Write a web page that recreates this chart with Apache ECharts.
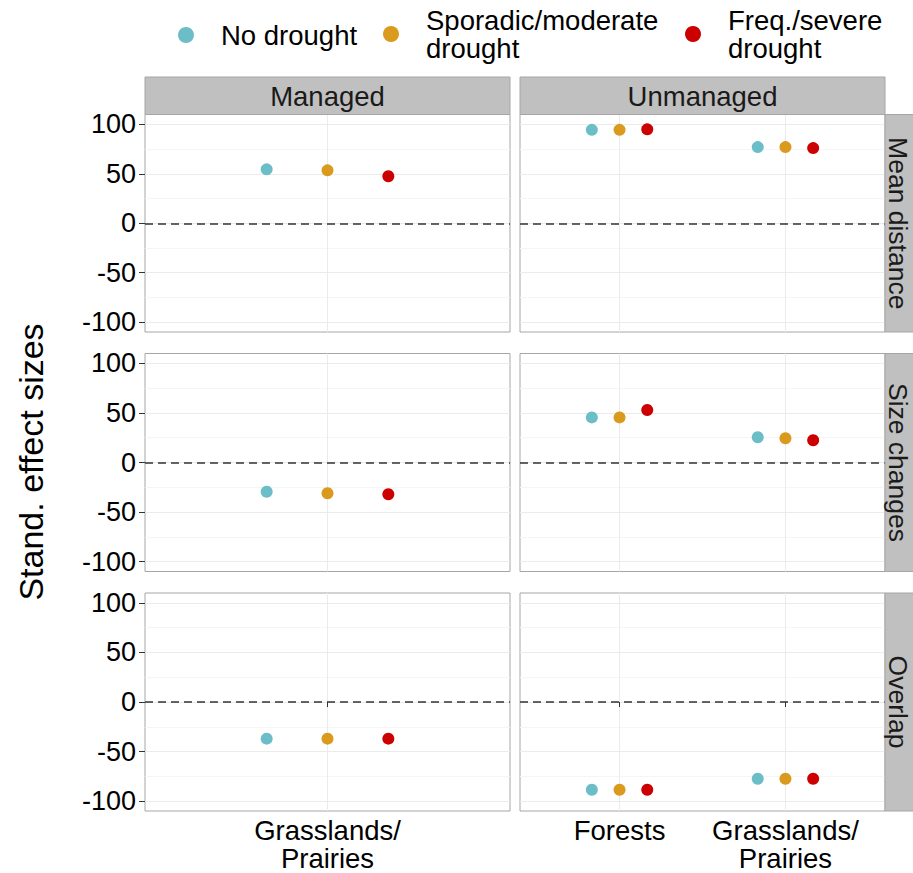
<!DOCTYPE html>
<html><head><meta charset="utf-8">
<script src="https://cdn.jsdelivr.net/npm/echarts@6/dist/echarts.min.js"></script>
<style>html,body{margin:0;padding:0;background:#fff}#c{width:913px;height:873px}</style>
</head><body><div id="c"></div>
<script>
// ---------- data ----------
const droughtLevels = ['No drought', 'Sporadic/moderate drought', 'Freq./severe drought'];
const managementTypes = ['Managed', 'Unmanaged'];
const metrics = ['Mean distance', 'Size changes', 'Overlap'];
const managedCategories = ['Grasslands/Prairies'];
const unmanagedCategories = ['Forests', 'Grasslands/Prairies'];
const yTicks = [-100, -50, 0, 50, 100];
const yMinorTicks = [-75, -25, 25, 75];
const referenceValue = 0;
const yTitle = 'Stand. effect sizes';

// rows: drought level (No, Sporadic/moderate, Freq./severe); columns: categories
const managedMeanDistance = [[54.5], [53.5], [47.5]];
const managedSizeChanges = [[-29.5], [-31], [-32]];
const managedOverlap = [[-37], [-37], [-37]];
const unmanagedMeanDistance = [[94.5, 77], [94.5, 77], [95, 76]];
const unmanagedSizeChanges = [[45.5, 25.5], [45.5, 24.5], [53, 22.5]];
const unmanagedOverlap = [[-88.5, -77.5], [-88.5, -77.5], [-88.5, -77.5]];

// ---------- layout / style ----------
const FONT = 'Liberation Sans, Arial, sans-serif';
const droughtColors = ['#6BBEC8', '#D99A1E', '#CC0000'];
const panelCols = [{ left: 145, width: 365 }, { left: 520, width: 365 }];
const panelRows = [{ top: 114.5, height: 217.5 }, { top: 353.5, height: 218 }, { top: 593, height: 218 }];
const dodgeStep = [0.2, 0.167];
const xRanges = [[0.4, 1.6], [0.4, 2.6]];
const yRange = [-110, 110];

const panelCategories = [managedCategories, unmanagedCategories];
const panelValues = [
  [managedMeanDistance, unmanagedMeanDistance],
  [managedSizeChanges, unmanagedSizeChanges],
  [managedOverlap, unmanagedOverlap]
];

const grids = [], xAxes = [], yAxes = [], series = [], graphics = [];

for (let r = 0; r < metrics.length; r++) {
  for (let c = 0; c < managementTypes.length; c++) {
    const idx = r * 2 + c;
    const cats = panelCategories[c];
    const catPos = cats.map((_, k) => k + 1);
    grids.push({
      left: panelCols[c].left, width: panelCols[c].width,
      top: panelRows[r].top, height: panelRows[r].height,
      show: true, borderColor: '#A6A6A6', borderWidth: 1, backgroundColor: '#fff',
      containLabel: false, outerBoundsMode: 'none'
    });
    const bottom = r === metrics.length - 1;
    xAxes.push({
      type: 'value', gridIndex: idx, min: xRanges[c][0], max: xRanges[c][1],
      axisLine: { show: false },
      axisTick: { show: bottom, customValues: catPos, length: 5, lineStyle: { color: '#333', width: 1 } },
      axisLabel: {
        show: bottom, customValues: catPos, margin: 5,
        formatter: v => (cats[Math.round(v) - 1] || '').replace('/', '/\n'),
        fontFamily: FONT, fontSize: 27.5, lineHeight: 28, color: '#000'
      },
      splitLine: { show: true, lineStyle: { color: '#EBEBEB', width: 1 } }
    });
    yAxes.push({
      type: 'value', gridIndex: idx, min: yRange[0], max: yRange[1],
      axisLine: { show: false },
      axisTick: { show: c === 0, customValues: yTicks, length: 6, lineStyle: { color: '#333', width: 1 } },
      axisLabel: { show: c === 0, customValues: yTicks, margin: 9, fontFamily: FONT, fontSize: 27, color: '#000' },
      splitLine: { show: true, lineStyle: { color: '#EBEBEB', width: 1 } }
    });
    yAxes.push({
      type: 'value', gridIndex: idx, min: yRange[0], max: yRange[1], position: 'left',
      axisLine: { show: false },
      axisTick: { show: false, customValues: yMinorTicks },
      axisLabel: { show: false, customValues: yMinorTicks },
      splitLine: { show: true, lineStyle: { color: '#F5F5F5', width: 1 } }
    });
    const vals = panelValues[r][c];
    droughtLevels.forEach((name, d) => {
      const s = {
        type: 'scatter', name, xAxisIndex: idx, yAxisIndex: idx * 2,
        symbol: 'circle', symbolSize: 12, z: 5,
        itemStyle: { color: droughtColors[d], opacity: 1 },
        data: cats.map((_, k) => [k + 1 + (d - 1) * dodgeStep[c], vals[d][k]])
      };
      if (d === 0) {
        s.markLine = {
          silent: true, symbol: ['none', 'none'], label: { show: false },
          lineStyle: { type: [8, 5], color: '#333', width: 1.6 },
          data: [{ yAxis: referenceValue }]
        };
      }
      series.push(s);
    });
  }
}

// strips
managementTypes.forEach((m, c) => {
  graphics.push({
    type: 'rect', shape: { x: panelCols[c].left, y: 77, width: panelCols[c].width, height: 37.5 },
    style: { fill: '#C0C0C0', stroke: '#A6A6A6', lineWidth: 1 }, z: 10
  });
  graphics.push({
    type: 'text', x: panelCols[c].left + panelCols[c].width / 2, y: 96.5, z: 11,
    style: { text: m, font: '27.5px ' + FONT, fill: '#1A1A1A', textAlign: 'center', textVerticalAlign: 'middle' }
  });
});
metrics.forEach((m, r) => {
  graphics.push({
    type: 'rect', shape: { x: 885, y: panelRows[r].top, width: 30, height: panelRows[r].height },
    style: { fill: '#C0C0C0', stroke: '#A6A6A6', lineWidth: 1 }, z: 10
  });
  graphics.push({
    type: 'text', x: 897.5, y: panelRows[r].top + panelRows[r].height / 2, rotation: -Math.PI / 2, z: 11,
    style: { text: m, font: '26.5px ' + FONT, fill: '#1A1A1A', textAlign: 'center', textVerticalAlign: 'middle' }
  });
});
graphics.push({
  type: 'text', x: 31, y: 462, rotation: Math.PI / 2,
  style: { text: yTitle, font: '34px ' + FONT, fill: '#000', textAlign: 'center', textVerticalAlign: 'middle' }
});

const legendLefts = [178, 383, 685];
const legendTops = [21, 6, 6];
const legends = droughtLevels.map((name, d) => ({
  data: [name], left: legendLefts[d], top: legendTops[d], padding: 0,
  icon: 'circle', itemWidth: 16, itemHeight: 16, selectedMode: false,
  formatter: n => n === 'No drought' ? n : n.replace(' drought', '\ndrought'),
  textStyle: { fontFamily: FONT, fontSize: 27.5, lineHeight: 28, color: '#000', padding: [0, 0, 0, 22] }
}));

const chart = echarts.init(document.getElementById('c'), null, { renderer: 'svg' });
chart.setOption({
  animation: false,
  backgroundColor: '#fff',
  legend: legends,
  grid: grids, xAxis: xAxes, yAxis: yAxes, series,
  graphic: graphics
});
</script></body></html>
